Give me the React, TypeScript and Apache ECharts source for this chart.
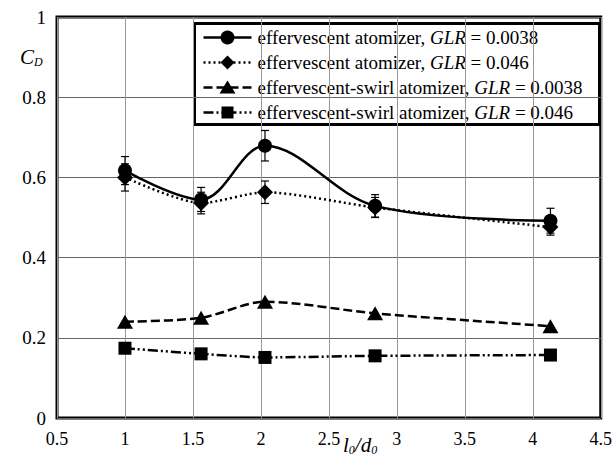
import React, { useEffect, useRef } from "react";
import * as echarts from "echarts";

// nozzle length-to-diameter ratio l0/d0
const ratio = [1.0, 1.56, 2.03, 2.84, 4.13];

// discharge coefficient C_D for each atomizer / GLR combination
const effLowGlr = [0.617, 0.545, 0.679, 0.529, 0.492];
const effHighGlr = [0.6, 0.536, 0.563, 0.525, 0.476];
const swirlLowGlr = [0.24, 0.25, 0.29, 0.261, 0.229];
const swirlHighGlr = [0.174, 0.16, 0.151, 0.155, 0.157];

// half-widths of the error bars
const effLowErr = [0.035, 0.03, 0.038, 0.028, 0.031];
const effHighErr = [0.034, 0.027, 0.028, 0.025, 0.02];

const legendLabels = [
  "effervescent atomizer, ",
  "effervescent atomizer, ",
  "effervescent-swirl atomizer, ",
  "effervescent-swirl atomizer, ",
];
const legendGlr = ["0.0038", "0.046", "0.0038", "0.046"];

const SERIF = "Liberation Serif";
const BLACK = "#000";

const pairs = (ys: number[]) => ratio.map((x, i) => [x, ys[i]]);
const errRows = (ys: number[], es: number[]) =>
  ratio.map((x, i) => [x, ys[i] - es[i], ys[i] + es[i]]);

const dashSolid: any = "solid";
const dashDotted: any = [2, 3];
const dashDashed: any = [9, 4];
const dashDotDot: any = [10, 3, 2, 3, 2, 3];

function legendMarker(kind: string, cx: number, cy: number) {
  const style = { fill: BLACK };
  if (kind === "circle") return { type: "circle", shape: { cx, cy, r: 7 }, style };
  if (kind === "diamond")
    return {
      type: "polygon",
      shape: { points: [[cx, cy - 7], [cx + 7, cy], [cx, cy + 7], [cx - 7, cy]] },
      style,
    };
  if (kind === "triangle")
    return {
      type: "polygon",
      shape: { points: [[cx, cy - 7], [cx + 8, cy + 6], [cx - 8, cy + 6]] },
      style,
    };
  return { type: "rect", shape: { x: cx - 6, y: cy - 6, width: 12, height: 12 }, style };
}

export default function App() {
  const ref = useRef<HTMLDivElement>(null);

  useEffect(() => {
    if (!ref.current) return;
    document.body.style.margin = "0";
    const chart = echarts.init(ref.current, undefined, { renderer: "svg" });

    const errorBars = (rows: number[][], name: string) => ({
      type: "custom",
      name,
      data: rows,
      encode: { x: 0, y: [1, 2] },
      z: 3,
      renderItem: (_p: any, api: any) => {
        const x = api.value(0);
        const lo = api.coord([x, api.value(1)]);
        const hi = api.coord([x, api.value(2)]);
        const cap = 4;
        const st = { stroke: BLACK, lineWidth: 1.2 };
        return {
          type: "group",
          children: [
            { type: "line", shape: { x1: lo[0], y1: lo[1], x2: hi[0], y2: hi[1] }, style: st },
            { type: "line", shape: { x1: lo[0] - cap, y1: lo[1], x2: lo[0] + cap, y2: lo[1] }, style: st },
            { type: "line", shape: { x1: hi[0] - cap, y1: hi[1], x2: hi[0] + cap, y2: hi[1] }, style: st },
          ],
        };
      },
    });

    const lineSeries = (
      ys: number[],
      symbol: string,
      size: any,
      dash: any,
      smooth: number | boolean
    ) => ({
      type: "line",
      data: pairs(ys),
      symbol,
      symbolSize: size,
      smooth,
      showSymbol: true,
      z: 4,
      itemStyle: { color: BLACK },
      lineStyle: { color: BLACK, width: 2.5, type: dash },
    });

    const legendX = 193;
    const legendY = 22;
    const rowGap = 25;
    const kinds = ["circle", "diamond", "triangle", "rect"];
    const dashes = [dashSolid, dashDotted, dashDashed, dashDotDot];
    const legendChildren: any[] = [
      {
        type: "rect",
        shape: { x: 0, y: 0, width: 405, height: 101 },
        style: { fill: "#fff", stroke: BLACK, lineWidth: 3 },
      },
    ];
    kinds.forEach((k, i) => {
      const cy = 14 + i * rowGap;
      legendChildren.push({
        type: "line",
        shape: { x1: 9, y1: cy, x2: 57, y2: cy },
        style: { stroke: BLACK, lineWidth: 2.5, lineDash: dashes[i] === "solid" ? null : dashes[i] },
      });
      legendChildren.push(legendMarker(k, 33, cy));
      legendChildren.push({
        type: "text",
        x: 63,
        y: cy,
        style: {
          text: `{n|${legendLabels[i]}}{i|GLR}{n| = ${legendGlr[i]}}`,
          verticalAlign: "middle",
          rich: {
            n: { fontFamily: SERIF, fontSize: 19, fill: BLACK },
            i: { fontFamily: SERIF, fontSize: 19, fontStyle: "italic", fill: BLACK },
          },
        },
      });
    });

    chart.setOption({
      animation: false,
      backgroundColor: "#fff",
      grid: {
        left: 57,
        right: 14,
        top: 17,
        bottom: 45,
        show: true,
        borderColor: BLACK,
        borderWidth: 3,
        backgroundColor: "transparent",
      },
      xAxis: {
        type: "value",
        min: 0.5,
        max: 4.5,
        interval: 0.5,
        axisLine: { show: false },
        axisTick: { show: false },
        axisLabel: { color: BLACK, fontFamily: SERIF, fontSize: 18, margin: 12 },
        splitLine: { lineStyle: { color: "#999", width: 1 } },
      },
      yAxis: {
        type: "value",
        min: 0,
        max: 1,
        interval: 0.2,
        axisLine: { show: false },
        axisTick: { show: false },
        axisLabel: {
          color: BLACK,
          fontFamily: SERIF,
          fontSize: 19,
          margin: 11,
          formatter: (v: number) => (v === 0 || v === 1 ? String(v) : v.toFixed(1)),
        },
        splitLine: { lineStyle: { color: "#666", width: 1 } },
      },
      series: [
        errorBars(errRows(effLowGlr, effLowErr), "err-eff-low"),
        errorBars(errRows(effHighGlr, effHighErr), "err-eff-high"),
        lineSeries(effLowGlr, "circle", 14, dashSolid, 0.35),
        lineSeries(effHighGlr, "diamond", 16, dashDotted, 0.25),
        lineSeries(swirlLowGlr, "triangle", [16, 14], dashDashed, 0.3),
        lineSeries(swirlHighGlr, "rect", 13, dashDotDot, 0.2),
      ],
      graphic: [
        { type: "group", left: legendX, top: legendY, z: 100, children: legendChildren },
        {
          type: "text",
          left: 20,
          top: 46,
          style: {
            text: "{c|C}{s|D}",
            rich: {
              c: { fontFamily: SERIF, fontSize: 21, fontStyle: "italic", fill: BLACK },
              s: { fontFamily: SERIF, fontSize: 12, fontStyle: "italic", fill: BLACK, padding: [10, 0, 0, 0] },
            },
          },
        },
        {
          type: "text",
          left: 343,
          top: 434,
          style: {
            text: "{b|l}{s|0}{b|/d}{s|0}",
            rich: {
              b: { fontFamily: SERIF, fontSize: 21, fontStyle: "italic", fill: BLACK },
              s: { fontFamily: SERIF, fontSize: 12, fontStyle: "italic", fill: BLACK, padding: [10, 0, 0, 0] },
            },
          },
        },
      ],
    });

    return () => chart.dispose();
  }, []);

  return <div ref={ref} style={{ width: 615, height: 463 }} />;
}
